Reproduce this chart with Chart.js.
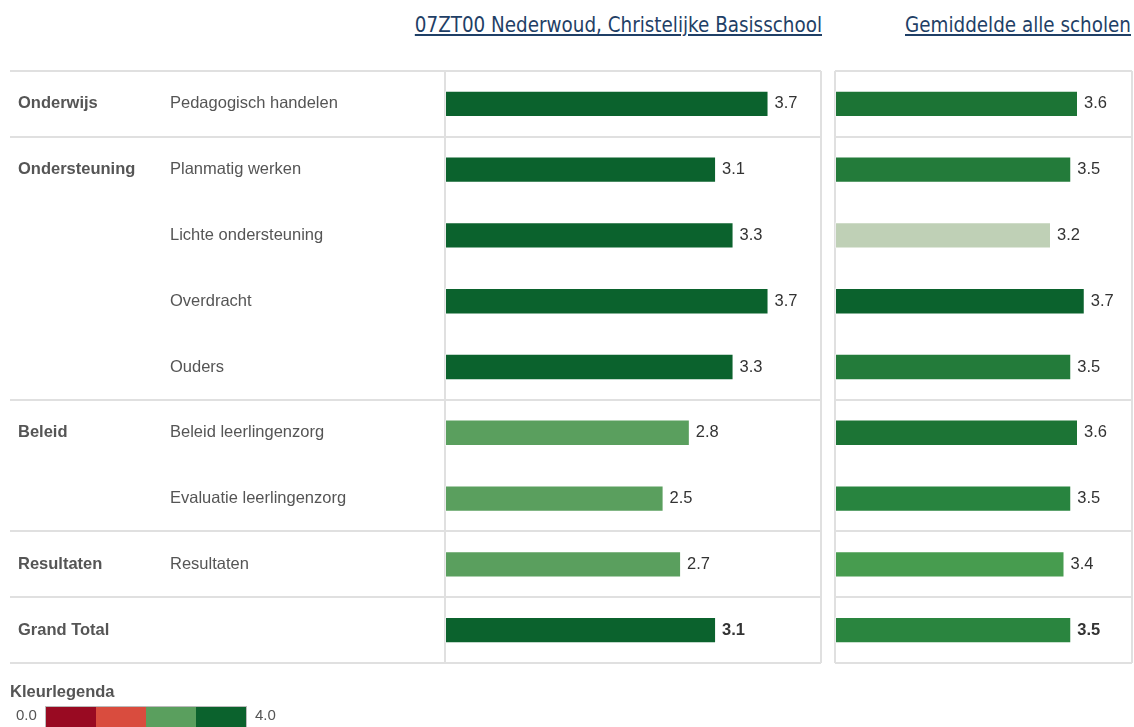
<!DOCTYPE html>
<html>
<head>
<meta charset="utf-8">
<script src="https://cdn.jsdelivr.net/npm/chart.js@4"></script>
<style>
  body { margin: 0; background: #fff; width: 1134px; height: 727px; overflow: hidden; position: relative; font-family: "Liberation Sans", Arial, sans-serif; }
  .titel { position: absolute; top: 13px; font-family: "DejaVu Sans Condensed", sans-serif; font-size: 20.4px; color: #1f3f66; text-decoration: underline; white-space: nowrap; }
  #vak1 { position: absolute; left: 0; top: 0; width: 824px; height: 727px; }
  #vak2 { position: absolute; left: 826px; top: 0; width: 308px; height: 727px; }
  #legenda { position: absolute; left: 10px; top: 682px; color: #555; }
  #legenda b { font-size: 16.5px; display: block; }
  .schaal { position: absolute; top: 24px; font-size: 15px; }
  #balk { position: absolute; left: 35px; top: 24px; height: 24px; display: flex; border: 1px solid #bbb; }
  #balk div { width: 50px; height: 100%; }
</style>
</head>
<body>

<div class="titel" style="right:312px">07ZT00 Nederwoud, Christelijke Basisschool</div>
<div class="titel" style="right:3px">Gemiddelde alle scholen</div>

<div id="vak1"><canvas id="grafiek1"></canvas></div>
<div id="vak2"><canvas id="grafiek2"></canvas></div>

<div id="legenda">
  <b>Kleurlegenda</b>
  <span class="schaal" style="left:6px">0.0</span>
  <div id="balk"></div>
  <span class="schaal" style="left:245px">4.0</span>
</div>

<script>
const groepen = ['Onderwijs', 'Ondersteuning', '', '', '', 'Beleid', '', 'Resultaten', 'Grand Total']
const onderdelen = ['Pedagogisch handelen', 'Planmatig werken', 'Lichte ondersteuning', 'Overdracht', 'Ouders',
  'Beleid leerlingenzorg', 'Evaluatie leerlingenzorg', 'Resultaten', '']
const scoresSchool = [3.7, 3.1, 3.3, 3.7, 3.3, 2.8, 2.5, 2.7, 3.1]
const scoresGemiddeld = [3.6, 3.5, 3.2, 3.7, 3.5, 3.6, 3.5, 3.4, 3.5]
const kleurenSchool = ['#0b622d', '#0b622d', '#0b622d', '#0b622d', '#0b622d', '#5a9f5e', '#5a9f5e', '#5a9f5e', '#0b622d']
const kleurenGemiddeld = ['#1c7435', '#237b3a', '#bfd0b6', '#0b622d', '#237b3a', '#1c7435', '#28843f', '#479c4f', '#2a853f']
const groepsgrenzen = [0, 1, 5, 7, 8, 9]
const legendaKleuren = ['#990a22', '#d94c3e', '#5a9f5e', '#0b622d']

legendaKleuren.forEach(function (k) {
  const d = document.createElement('div')
  d.style.background = k
  balk.appendChild(d)
})

// lijnen, teksten links en waardes achter de balken
const tabelPlugin = {
  id: 'tabel',
  beforeDatasetsDraw(chart, args, opts) {
    const c = chart.ctx
    const area = chart.chartArea
    const y = chart.scales.y
    const stap = y.getPixelForValue(1) - y.getPixelForValue(0)
    c.save()
    c.strokeStyle = '#e0e0e0'
    c.lineWidth = 2
    groepsgrenzen.forEach(function (g) {
      const py = Math.round(y.getPixelForValue(0) - stap / 2 + g * stap)
      c.beginPath()
      c.moveTo(opts.lijnStart, py)
      c.lineTo(area.right, py)
      c.stroke()
    })
    c.beginPath()
    c.moveTo(area.left, area.top)
    c.lineTo(area.left, area.bottom)
    c.moveTo(area.right, area.top)
    c.lineTo(area.right, area.bottom)
    c.stroke()

    if (opts.teksten) {
      c.fillStyle = '#555'
      c.textBaseline = 'middle'
      groepen.forEach(function (t, i) {
        c.font = 'bold 16.5px "Liberation Sans", Arial'
        c.fillText(t, 18, y.getPixelForValue(i))
        c.font = '16.5px "Liberation Sans", Arial'
        c.fillText(onderdelen[i], 170, y.getPixelForValue(i))
      })
    }
    c.restore()
  },
  afterDatasetsDraw(chart) {
    const c = chart.ctx
    const meta = chart.getDatasetMeta(0)
    const data = chart.data.datasets[0].data
    c.save()
    c.fillStyle = '#333'
    c.textBaseline = 'middle'
    meta.data.forEach(function (bar, i) {
      c.font = (i == data.length - 1 ? 'bold ' : '') + '16.5px "Liberation Sans", Arial'
      c.fillText(data[i].toFixed(1), bar.x + 6, bar.y)
    })
    c.restore()
  }
}

function maakGrafiek(id, scores, kleuren, max, padding, teksten, lijnStart) {
  return new Chart(document.getElementById(id), {
    type: 'bar',
    data: {
      labels: onderdelen,
      datasets: [{
        data: scores,
        backgroundColor: kleuren,
        borderColor: 'rgba(255,255,255,0.35)',
        borderWidth: 1,
        borderSkipped: false,
        categoryPercentage: 1,
        barPercentage: 0.4
      }]
    },
    options: {
      indexAxis: 'y',
      responsive: true,
      maintainAspectRatio: false,
      animation: false,
      layout: { padding: padding },
      plugins: {
        legend: { display: false },
        tooltip: { enabled: false },
        tabel: { teksten: teksten, lijnStart: lijnStart }
      },
      scales: {
        x: { display: false, min: 0, max: max },
        y: { display: false }
      }
    },
    plugins: [tabelPlugin]
  })
}

maakGrafiek('grafiek1', scoresSchool, kleurenSchool, 4.3, { left: 445, right: 3, top: 71, bottom: 64 }, true, 10)
maakGrafiek('grafiek2', scoresGemiddeld, kleurenGemiddeld, 4.4, { left: 9, right: 2, top: 71, bottom: 64 }, false, 9)
</script>
</body>
</html>
